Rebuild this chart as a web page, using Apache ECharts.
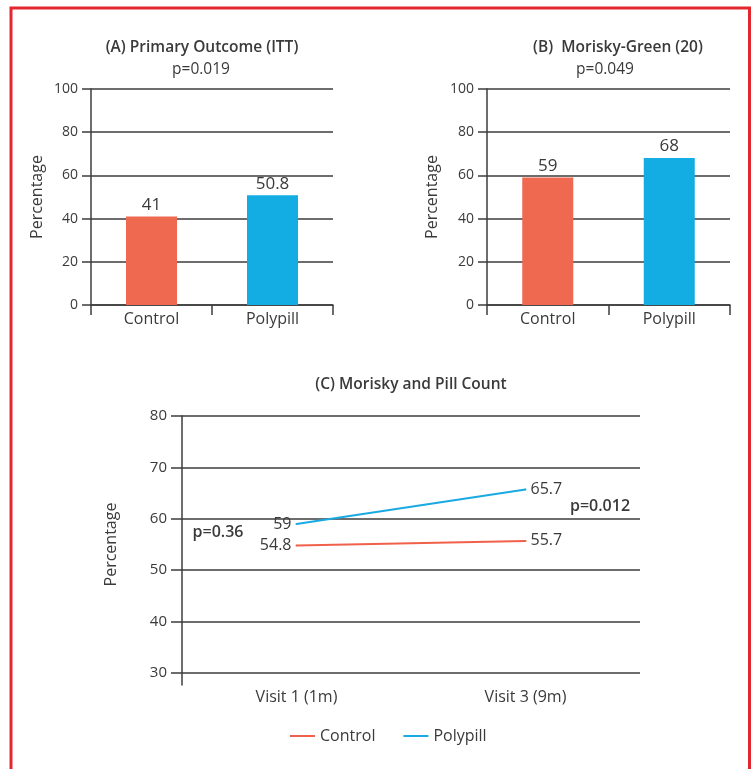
<!DOCTYPE html>
<html>
<head>
<meta charset="utf-8">
<script src="https://cdn.jsdelivr.net/npm/echarts@6/dist/echarts.min.js"></script>
<style>
html,body{margin:0;padding:0;background:#fff;}
#c{width:755px;height:769px;}
</style>
</head>
<body>
<div id="c"></div>
<script>
// ---- data ----
const barCategories = ['Control', 'Polypill'];
const primaryOutcomeITT = [41, 50.8];
const moriskyGreen20 = [59, 68];
const visitCategories = ['Visit 1 (1m)', 'Visit 3 (9m)'];
const controlSeries = [54.8, 55.7];
const polypillSeries = [59, 65.7];
const barColors = ['#EF6850', '#13ADE3'];
const lineColors = { Control: '#F0604A', Polypill: '#1AA9E0' };

const FONT = 'Open Sans';
const TXT = '#3a3a3a';
const LINE = '#3c3c3c';

function barXAxis(gridIndex) {
  return {
    type: 'category', gridIndex, data: barCategories,
    axisLine: { show: true, lineStyle: { color: LINE, width: 1.5 } },
    axisTick: { show: true, length: 10, lineStyle: { color: LINE, width: 1.5 } },
    axisLabel: { color: TXT, fontSize: 16, fontFamily: FONT, margin: 6 }
  };
}
function barYAxis(gridIndex, nameGap) {
  return {
    type: 'value', gridIndex, min: 0, max: 100, interval: 20,
    name: 'Percentage', nameLocation: 'middle', nameGap,
    nameTextStyle: { color: TXT, fontSize: 16, fontFamily: FONT },
    axisLine: { show: true, lineStyle: { color: LINE, width: 1.5 } },
    axisTick: { show: true, length: 9, lineStyle: { color: LINE, width: 1.5 } },
    axisLabel: { color: TXT, fontSize: 14, fontFamily: FONT, margin: 13 },
    splitLine: { show: true, lineStyle: { color: LINE, width: 1.5 } }
  };
}
function barSeries(idx, values) {
  return {
    type: 'bar', name: 'bars' + idx, xAxisIndex: idx, yAxisIndex: idx,
    barWidth: 51,
    data: values.map((v, i) => ({ value: v, itemStyle: { color: barColors[i] } })),
    label: { show: true, position: 'top', distance: 3, color: TXT, fontSize: 17, fontFamily: FONT }
  };
}
function lineSeries(name, values) {
  return {
    type: 'line', name, xAxisIndex: 2, yAxisIndex: 2,
    symbol: 'circle', symbolSize: 2,
    lineStyle: { color: lineColors[name], width: 2 },
    itemStyle: { color: lineColors[name] },
    data: values.map((v, i) => ({ value: v, label: { position: i === 0 ? 'left' : 'right' } })),
    label: { show: true, distance: 4, color: TXT, fontSize: 16, fontFamily: FONT }
  };
}
function txt(text, x, y, size, weight) {
  return { type: 'text', x, y, style: { text, fill: TXT, font: (weight || 'normal') + ' ' + size + 'px "' + FONT + '"', textAlign: 'center', textVerticalAlign: 'middle' } };
}

const chart = echarts.init(document.getElementById('c'));
chart.setOption({
  animation: false,
  backgroundColor: '#fff',
  grid: [
    { left: 91, right: 422, top: 89, bottom: 464 },
    { left: 487, right: 25, top: 89, bottom: 464 },
    { left: 182, right: 115, top: 416, bottom: 96 },
    { left: 182, right: 115, top: 416, bottom: 84 }
  ],
  xAxis: [
    barXAxis(0),
    barXAxis(1),
    {
      type: 'category', gridIndex: 2, data: visitCategories, boundaryGap: true,
      axisLine: { show: false }, axisTick: { show: false },
      axisLabel: { color: TXT, fontSize: 16, fontFamily: FONT, margin: 16 }
    },
    { type: 'value', gridIndex: 3, show: false }
  ],
  yAxis: [
    barYAxis(0, 46),
    barYAxis(1, 47),
    {
      type: 'value', gridIndex: 2, min: 30, max: 80, interval: 10,
      name: 'Percentage', nameLocation: 'middle', nameGap: 63,
      nameTextStyle: { color: TXT, fontSize: 16, fontFamily: FONT },
      axisLine: { show: false },
      axisTick: { show: true, length: 11, lineStyle: { color: LINE, width: 1.5 } },
      axisLabel: { color: TXT, fontSize: 15, fontFamily: FONT, margin: 15 },
      splitLine: { show: true, lineStyle: { color: LINE, width: 1.5 } }
    },
    {
      type: 'value', gridIndex: 3, min: 0, max: 1,
      axisLine: { show: true, lineStyle: { color: LINE, width: 1.5 } },
      axisTick: { show: false }, axisLabel: { show: false }, splitLine: { show: false }
    }
  ],
  legend: {
    left: 285, top: 723,
    data: [{ name: 'Control', icon: 'rect' }, { name: 'Polypill', icon: 'rect' }],
    itemWidth: 25, itemHeight: 2, itemGap: 28,
    textStyle: { color: TXT, fontSize: 16, fontFamily: FONT }
  },
  series: [
    barSeries(0, primaryOutcomeITT),
    barSeries(1, moriskyGreen20),
    lineSeries('Control', controlSeries),
    lineSeries('Polypill', polypillSeries)
  ],
  graphic: [
    { type: 'rect', shape: { x: 11, y: 8, width: 738.5, height: 800 }, style: { fill: 'none', stroke: '#E4262F', lineWidth: 3 }, silent: true },
    txt('(A) Primary Outcome (ITT)', 202, 48, 15.5, 600),
    txt('p=0.019', 201, 70, 15.5),
    txt('(B)  Morisky-Green (20)', 618, 48, 15.5, 600),
    txt('p=0.049', 605, 70, 15.5),
    txt('(C) Morisky and Pill Count', 411, 385, 15.5, 600),
    txt('p=0.36', 218, 532, 16, 600),
    txt('p=0.012', 600, 506, 16, 600)
  ]
});
</script>
</body>
</html>
